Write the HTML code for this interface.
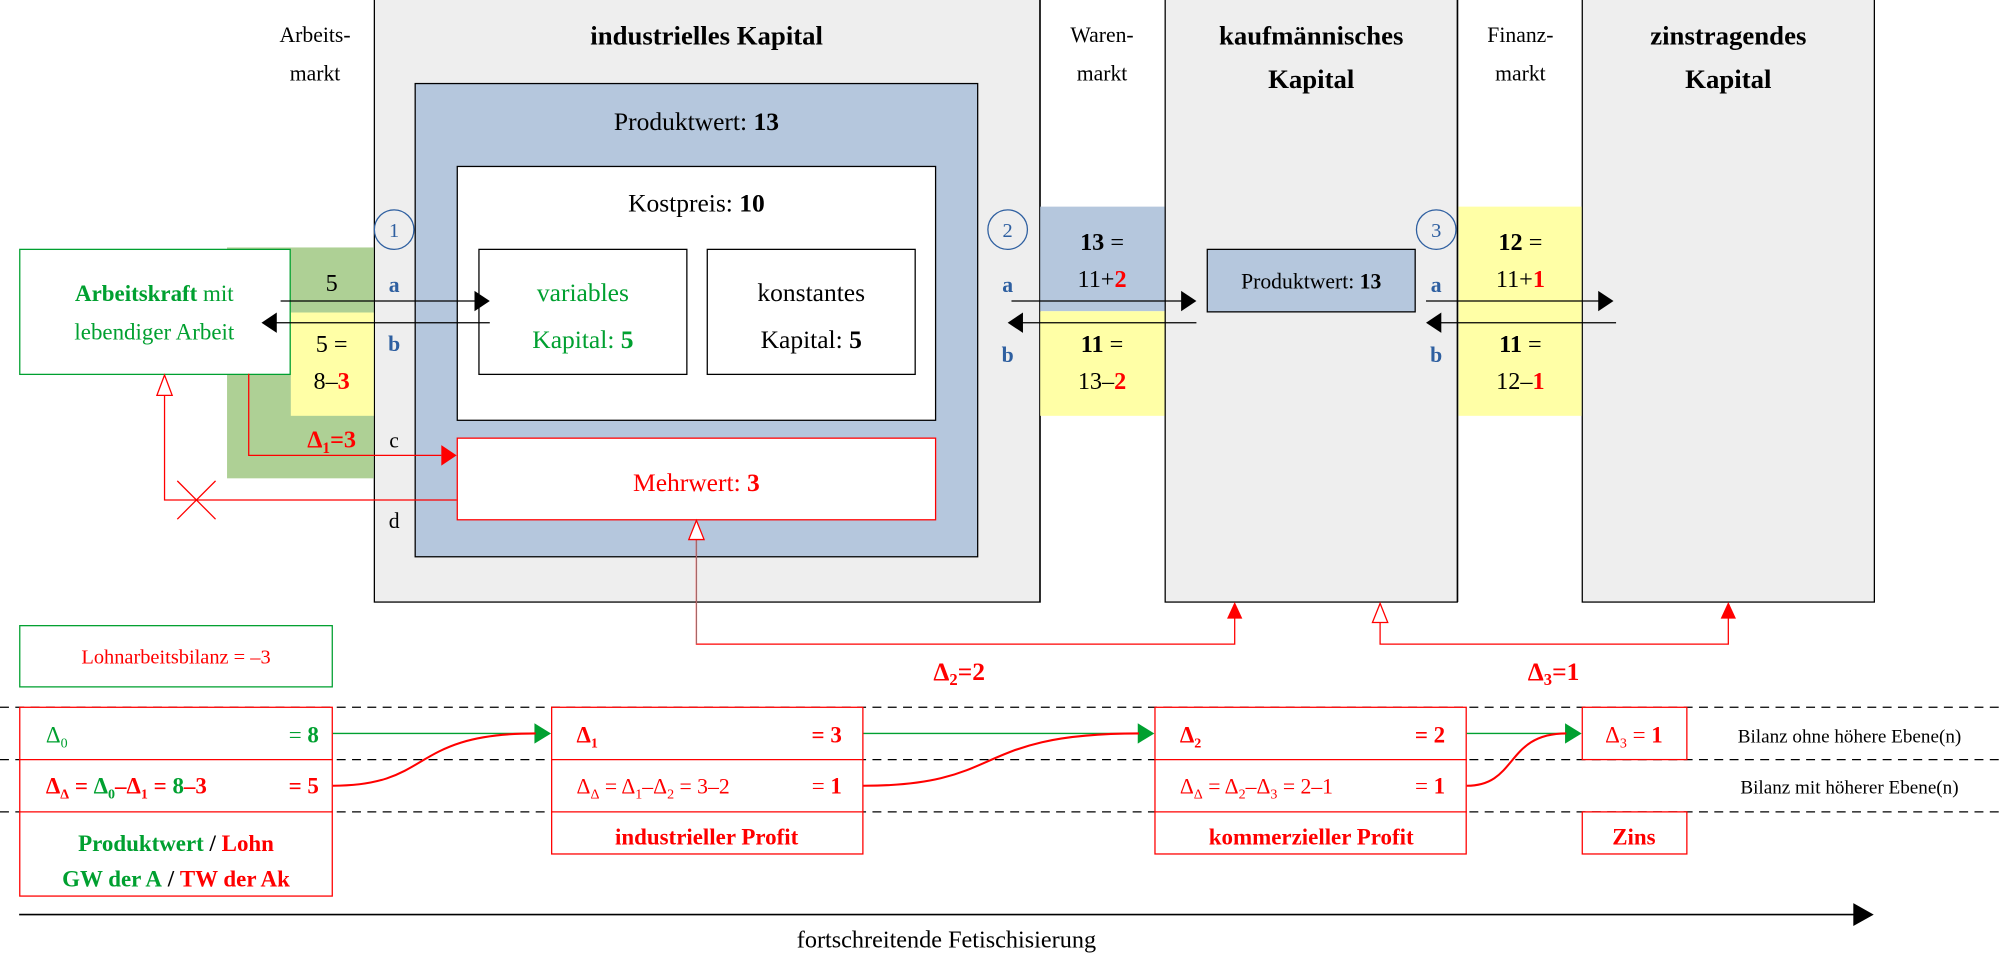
<!DOCTYPE html>
<html><head><meta charset="utf-8"><style>
html,body{margin:0;padding:0;background:#fff;}
svg{display:block;}
text{font-family:"Liberation Serif",serif;}
.b{font-weight:bold;}
.r{fill:#ff0000;}
.g{fill:#00a030;}
.bl{fill:#2e5fa0;}
</style></head><body>
<svg width="2000" height="955" viewBox="0 0 1568 748.7" preserveAspectRatio="none" xmlns="http://www.w3.org/2000/svg">
<rect width="1568" height="749" fill="#fff"/>
<!-- columns -->
<rect x="293.5" y="-2" width="522" height="474" fill="#eeeeee" stroke="#000" stroke-width="1"/>
<rect x="913.5" y="-2" width="229" height="474" fill="#eeeeee" stroke="#000" stroke-width="1"/>
<rect x="1240.5" y="-2" width="229" height="474" fill="#eeeeee" stroke="#000" stroke-width="1"/>
<line x1="815" y1="0" x2="815" y2="472" stroke="#000" stroke-width="0.6"/>
<line x1="1143" y1="0" x2="1143" y2="472" stroke="#000" stroke-width="0.6"/>

<!-- titles -->
<g font-size="17" text-anchor="middle">
<text x="247" y="33">Arbeits-</text><text x="247" y="63">markt</text>
<text x="864" y="33">Waren-</text><text x="864" y="63">markt</text>
<text x="1192" y="33">Finanz-</text><text x="1192" y="63">markt</text>
</g>
<g font-size="21" text-anchor="middle" class="b" font-weight="bold">
<text x="554" y="35">industrielles Kapital</text>
<text x="1028" y="35">kaufmännisches</text><text x="1028" y="69">Kapital</text>
<text x="1355" y="35">zinstragendes</text><text x="1355" y="69">Kapital</text>
</g>

<!-- green / yellow at Arbeitsmarkt -->
<rect x="178" y="194" width="115" height="181" fill="#aed095"/>
<rect x="228" y="245" width="65" height="81" fill="#ffffa6"/>
<!-- Warenmarkt -->
<rect x="815.5" y="162" width="97.5" height="82" fill="#b5c7dd"/>
<rect x="815.5" y="244" width="97.5" height="82" fill="#ffffa6"/>
<!-- Finanzmarkt -->
<rect x="1143.5" y="162" width="96.5" height="164" fill="#ffffa6"/>

<!-- blue box -->
<rect x="325.5" y="65.5" width="441" height="371" fill="#b5c7dd" stroke="#000" stroke-width="1"/>
<text x="546" y="102" font-size="20" text-anchor="middle">Produktwert: <tspan font-weight="bold">13</tspan></text>
<rect x="358.5" y="130.5" width="375" height="199" fill="#fff" stroke="#000" stroke-width="1"/>
<text x="546" y="166" font-size="20" text-anchor="middle">Kostpreis: <tspan font-weight="bold">10</tspan></text>
<rect x="375.5" y="195.5" width="163" height="98" fill="#fff" stroke="#000" stroke-width="1"/>
<rect x="554.5" y="195.5" width="163" height="98" fill="#fff" stroke="#000" stroke-width="1"/>
<g font-size="20" text-anchor="middle">
<text x="457" y="236" class="g">variables</text>
<text x="457" y="273" class="g">Kapital: <tspan font-weight="bold">5</tspan></text>
<text x="636" y="236">konstantes</text>
<text x="636" y="273">Kapital: <tspan font-weight="bold">5</tspan></text>
</g>
<rect x="358.5" y="343.5" width="375" height="64" fill="#fff" stroke="#ff0000" stroke-width="1"/>
<text x="546" y="385" font-size="20" text-anchor="middle" class="r">Mehrwert: <tspan font-weight="bold">3</tspan></text>

<!-- Arbeitskraft box -->
<rect x="15.5" y="195.5" width="212" height="98" fill="#fff" stroke="#00a030" stroke-width="1"/>
<text x="121" y="236" font-size="18" text-anchor="middle" class="g"><tspan font-weight="bold">Arbeitskraft</tspan> mit</text>
<text x="121" y="266" font-size="18" text-anchor="middle" class="g">lebendiger Arbeit</text>

<!-- numbers at Arbeitsmarkt -->
<g font-size="19" text-anchor="middle">
<text x="260" y="228">5</text>
<text x="260" y="276">5 =</text>
<text x="260" y="305">8–<tspan class="r" font-weight="bold">3</tspan></text>
<text x="260" y="351" class="r" font-weight="bold">Δ<tspan font-size="12" dy="4">1</tspan><tspan dy="-4">=3</tspan></text>
</g>

<!-- circles and letters -->
<g fill="none" stroke="#2e5fa0" stroke-width="1">
<circle cx="309" cy="180" r="15.5"/><circle cx="790" cy="180" r="15.5"/><circle cx="1126" cy="180" r="15.5"/>
</g>
<g font-size="16" text-anchor="middle" class="bl">
<text x="309" y="186">1</text><text x="790" y="186">2</text><text x="1126" y="186">3</text>
</g>
<g font-size="17" text-anchor="middle" font-weight="bold" class="bl">
<text x="309" y="229">a</text><text x="309" y="275">b</text>
<text x="790" y="229">a</text><text x="790" y="284">b</text>
<text x="1126" y="229">a</text><text x="1126" y="284">b</text>
</g>
<g font-size="17" text-anchor="middle">
<text x="309" y="351">c</text><text x="309" y="414">d</text>
</g>

<!-- Warenmarkt numbers -->
<g font-size="19" text-anchor="middle">
<text x="864" y="196"><tspan font-weight="bold">13</tspan> =</text>
<text x="864" y="225">11+<tspan class="r" font-weight="bold">2</tspan></text>
<text x="864" y="276"><tspan font-weight="bold">11</tspan> =</text>
<text x="864" y="305">13–<tspan class="r" font-weight="bold">2</tspan></text>
<text x="1192" y="196"><tspan font-weight="bold">12</tspan> =</text>
<text x="1192" y="225">11+<tspan class="r" font-weight="bold">1</tspan></text>
<text x="1192" y="276"><tspan font-weight="bold">11</tspan> =</text>
<text x="1192" y="305">12–<tspan class="r" font-weight="bold">1</tspan></text>
</g>
<rect x="946.5" y="195.5" width="163" height="49" fill="#b5c7dd" stroke="#000" stroke-width="1"/>
<text x="1028" y="226" font-size="17" text-anchor="middle">Produktwert: <tspan font-weight="bold">13</tspan></text>

<!-- black arrows -->
<g stroke="#000" stroke-width="1">
<line x1="220" y1="236" x2="374" y2="236"/>
<line x1="384" y1="253" x2="214" y2="253"/>
<line x1="793" y1="236" x2="930" y2="236"/>
<line x1="938" y1="253" x2="798" y2="253"/>
<line x1="1118" y1="236" x2="1257" y2="236"/>
<line x1="1267" y1="253" x2="1126" y2="253"/>
</g>
<g fill="#000">
<polygon points="384,236 372,228 372,244"/>
<polygon points="205,253 217,245 217,261"/>
<polygon points="938,236 926,228 926,244"/>
<polygon points="790,253 802,245 802,261"/>
<polygon points="1265,236 1253,228 1253,244"/>
<polygon points="1118,253 1130,245 1130,261"/>
</g>

<!-- red connectors -->
<g fill="none" stroke="#ff0000" stroke-width="1">
<polyline points="195,293 195,357 346,357"/>
<polyline points="358,392 129,392 129,310"/>
<line x1="139" y1="377" x2="169" y2="407"/><line x1="169" y1="377" x2="139" y2="407"/>
<polyline points="546,423 546,505 968,505 968,484"/>
<polyline points="1082,488 1082,505 1355,505 1355,484"/>
</g>
<line x1="546" y1="423" x2="546" y2="505" stroke="#888" stroke-width="0.6"/>
<polygon points="358,357 346,349 346,365" fill="#ff0000"/>
<polygon points="129,294 123,310 135,310" fill="#fff" stroke="#ff0000" stroke-width="1"/>
<polygon points="546,408 540,423 552,423" fill="#fff" stroke="#ff0000" stroke-width="1"/>
<polygon points="968,472 962,485 974,485" fill="#ff0000"/>
<polygon points="1082,473 1076,488 1088,488" fill="#fff" stroke="#ff0000" stroke-width="1"/>
<polygon points="1355,472 1349,485 1361,485" fill="#ff0000"/>
<g font-size="20" font-weight="bold" class="r" text-anchor="middle">
<text x="752" y="533">Δ<tspan font-size="13" dy="4">2</tspan><tspan dy="-4">=2</tspan></text>
<text x="1218" y="533">Δ<tspan font-size="13" dy="4">3</tspan><tspan dy="-4">=1</tspan></text>
</g>

<!-- Lohnarbeitsbilanz -->
<rect x="15.5" y="490.5" width="245" height="48" fill="#fff" stroke="#00a030" stroke-width="1"/>
<text x="138" y="520" font-size="16" text-anchor="middle" class="r">Lohnarbeitsbilanz = –3</text>

<!-- dashed lines -->
<g stroke="#000" stroke-width="1" stroke-dasharray="7,5">
<line x1="0" y1="554.5" x2="1568" y2="554.5"/>
<line x1="0" y1="595.5" x2="1568" y2="595.5"/>
<line x1="0" y1="636.5" x2="1568" y2="636.5"/>
</g>

<!-- bottom boxes -->
<g fill="#fff" stroke="#ff0000" stroke-width="1">
<rect x="15.5" y="554.5" width="245" height="148"/>
<rect x="432.5" y="554.5" width="244" height="115"/>
<rect x="905.5" y="554.5" width="244" height="115"/>
<rect x="1240.5" y="554.5" width="82" height="41"/>
<rect x="1240.5" y="636.5" width="82" height="33"/>
</g>
<g stroke="#ff0000" stroke-width="1">
<line x1="15" y1="595.5" x2="261" y2="595.5"/><line x1="15" y1="636.5" x2="261" y2="636.5"/>
<line x1="432" y1="595.5" x2="677" y2="595.5"/><line x1="432" y1="636.5" x2="677" y2="636.5"/>
<line x1="905" y1="595.5" x2="1150" y2="595.5"/><line x1="905" y1="636.5" x2="1150" y2="636.5"/>
</g>

<!-- box 0 text -->
<text x="36" y="582" font-size="18" class="g">Δ<tspan font-size="11" dy="4">0</tspan></text>
<text x="250" y="582" font-size="18" class="g" text-anchor="end">= <tspan font-weight="bold">8</tspan></text>
<text x="36" y="622" font-size="18" class="r" font-weight="bold">Δ<tspan font-size="11" dy="4">Δ</tspan><tspan dy="-4"> = </tspan><tspan class="g">Δ</tspan><tspan class="g" font-size="11" dy="4">0</tspan><tspan dy="-4">–Δ</tspan><tspan font-size="11" dy="4">1</tspan><tspan dy="-4"> = </tspan><tspan class="g">8</tspan>–3</text>
<text x="250" y="622" font-size="18" class="r" font-weight="bold" text-anchor="end">= 5</text>
<text x="138" y="667" font-size="18" text-anchor="middle" font-weight="bold"><tspan class="g">Produktwert</tspan> / <tspan class="r">Lohn</tspan></text>
<text x="138" y="695" font-size="18" text-anchor="middle" font-weight="bold"><tspan class="g">GW der A</tspan> / <tspan class="r">TW der Ak</tspan></text>

<!-- box 1 text -->
<text x="452" y="582" font-size="18" class="r" font-weight="bold">Δ<tspan font-size="11" dy="4">1</tspan></text>
<text x="660" y="582" font-size="18" class="r" font-weight="bold" text-anchor="end">= 3</text>
<text x="452" y="622" font-size="17" class="r">Δ<tspan font-size="11" dy="4">Δ</tspan><tspan dy="-4"> = Δ</tspan><tspan font-size="11" dy="4">1</tspan><tspan dy="-4">–Δ</tspan><tspan font-size="11" dy="4">2</tspan><tspan dy="-4"> = 3–2</tspan></text>
<text x="660" y="622" font-size="18" class="r" text-anchor="end">= <tspan font-weight="bold">1</tspan></text>
<text x="554" y="662" font-size="18" class="r" font-weight="bold" text-anchor="middle">industrieller Profit</text>

<!-- box 2 text -->
<text x="925" y="582" font-size="18" class="r" font-weight="bold">Δ<tspan font-size="11" dy="4">2</tspan></text>
<text x="1133" y="582" font-size="18" class="r" font-weight="bold" text-anchor="end">= 2</text>
<text x="925" y="622" font-size="17" class="r">Δ<tspan font-size="11" dy="4">Δ</tspan><tspan dy="-4"> = Δ</tspan><tspan font-size="11" dy="4">2</tspan><tspan dy="-4">–Δ</tspan><tspan font-size="11" dy="4">3</tspan><tspan dy="-4"> = 2–1</tspan></text>
<text x="1133" y="622" font-size="18" class="r" text-anchor="end">= <tspan font-weight="bold">1</tspan></text>
<text x="1028" y="662" font-size="18" class="r" font-weight="bold" text-anchor="middle">kommerzieller Profit</text>

<!-- box 3 text -->
<text x="1281" y="582" font-size="18" class="r" text-anchor="middle">Δ<tspan font-size="11" dy="4">3</tspan><tspan dy="-4"> = </tspan><tspan font-weight="bold">1</tspan></text>
<text x="1281" y="662" font-size="18" class="r" font-weight="bold" text-anchor="middle">Zins</text>

<g font-size="15" text-anchor="middle">
<text x="1450" y="582">Bilanz ohne höhere Ebene(n)</text>
<text x="1450" y="622">Bilanz mit höherer Ebene(n)</text>
</g>

<!-- green arrows and red curves -->
<g stroke="#00a030" stroke-width="1">
<line x1="261" y1="575" x2="420" y2="575"/>
<line x1="677" y1="575" x2="893" y2="575"/>
<line x1="1150" y1="575" x2="1228" y2="575"/>
</g>
<g fill="#00a030">
<polygon points="432,575 419,567 419,583"/>
<polygon points="905,575 892,567 892,583"/>
<polygon points="1240,575 1227,567 1227,583"/>
</g>
<g fill="none" stroke="#ff0000" stroke-width="1.6">
<path d="M261,616 C340,616 320,575 420,575"/>
<path d="M677,616 C790,616 760,575 893,575"/>
<path d="M1150,616 C1190,616 1180,575 1228,575"/>
</g>

<!-- bottom axis -->
<line x1="15" y1="717" x2="1456" y2="717" stroke="#000" stroke-width="1.3"/>
<polygon points="1469,717 1453,708 1453,726" fill="#000"/>
<text x="742" y="743" font-size="19" text-anchor="middle">fortschreitende Fetischisierung</text>
</svg>
</body></html>
